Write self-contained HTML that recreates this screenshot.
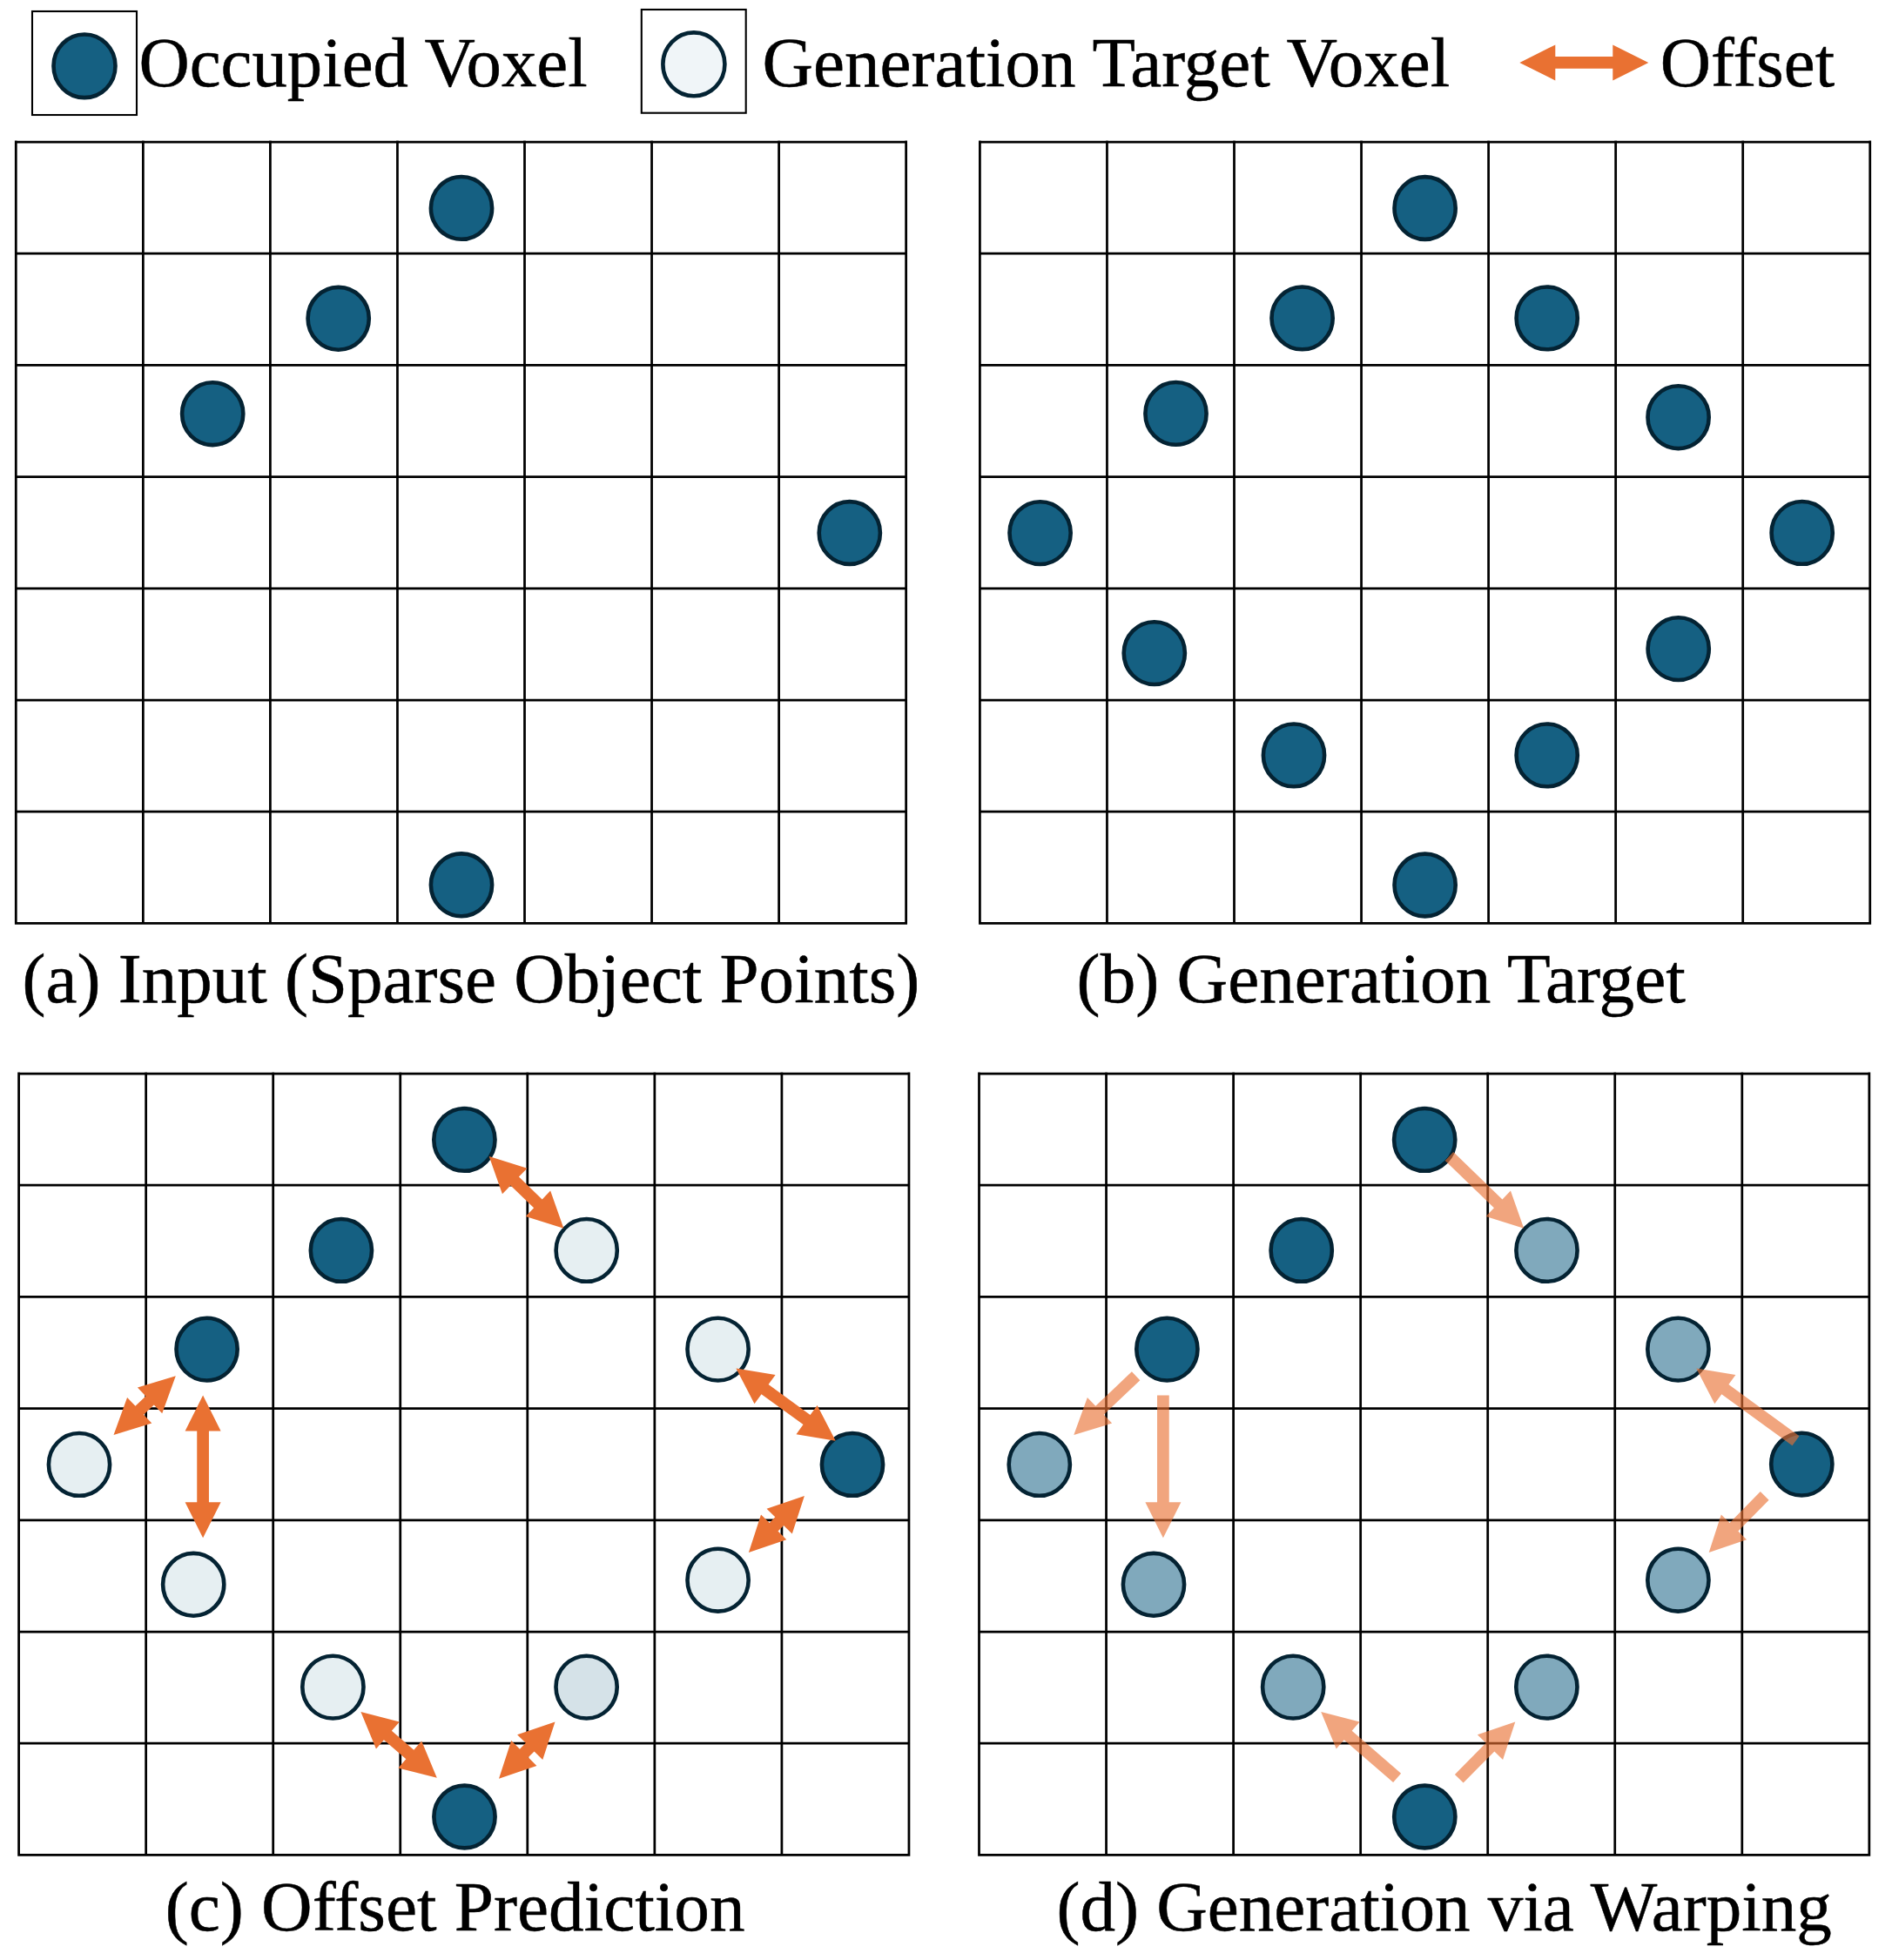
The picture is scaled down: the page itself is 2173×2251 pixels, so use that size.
<!DOCTYPE html><html><head><meta charset='utf-8'><style>html,body{margin:0;padding:0;background:#fff;overflow:hidden}svg{display:block}</style></head><body><svg width='2173' height='2251' viewBox='0 0 2173 2251' font-family='"Liberation Serif", serif' font-size='81.2' fill='#000'><rect x='37' y='13' width='120' height='119' fill='none' stroke='#000' stroke-width='2.1'/><ellipse cx='97.00' cy='75.85' rx='35.5' ry='36.3' fill='#156082' stroke='#042333' stroke-width='4.6'/><rect x='736.8' y='11' width='119.9' height='118.7' fill='none' stroke='#000' stroke-width='2.1'/><ellipse cx='796.90' cy='73.80' rx='35.5' ry='36.4' fill='#F0F5F8' stroke='#042333' stroke-width='4.6'/><polygon points='1745.30,71.90 1786.30,51.40 1786.30,65.05 1852.30,65.05 1852.30,51.40 1893.30,71.90 1852.30,92.40 1852.30,78.75 1786.30,78.75 1786.30,92.40' fill='#E97132'/><text x='159.40' y='98.50' textLength='515.2' lengthAdjust='spacingAndGlyphs' stroke='#000' stroke-width='0.5'>Occupied Voxel</text><text x='875.50' y='98.50' textLength='789.7' lengthAdjust='spacingAndGlyphs' stroke='#000' stroke-width='0.5'>Generation Target Voxel</text><text x='1906.70' y='98.50' textLength='200.4' lengthAdjust='spacingAndGlyphs' stroke='#000' stroke-width='0.5'>Offset</text><path d='M18.30 161.62V1061.77 M164.35 161.62V1061.77 M310.40 161.62V1061.77 M456.45 161.62V1061.77 M602.50 161.62V1061.77 M748.55 161.62V1061.77 M894.60 161.62V1061.77 M1040.65 161.62V1061.77 M16.93 163.00H1042.03 M16.93 291.20H1042.03 M16.93 419.40H1042.03 M16.93 547.60H1042.03 M16.93 675.80H1042.03 M16.93 804.00H1042.03 M16.93 932.20H1042.03 M16.93 1060.40H1042.03' stroke='#000' stroke-width='2.75' fill='none'/><path d='M1125.40 161.62V1061.77 M1271.45 161.62V1061.77 M1417.50 161.62V1061.77 M1563.55 161.62V1061.77 M1709.60 161.62V1061.77 M1855.65 161.62V1061.77 M2001.70 161.62V1061.77 M2147.75 161.62V1061.77 M1124.03 163.00H2149.12 M1124.03 291.20H2149.12 M1124.03 419.40H2149.12 M1124.03 547.60H2149.12 M1124.03 675.80H2149.12 M1124.03 804.00H2149.12 M1124.03 932.20H2149.12 M1124.03 1060.40H2149.12' stroke='#000' stroke-width='2.75' fill='none'/><path d='M21.60 1231.62V2131.77 M167.65 1231.62V2131.77 M313.70 1231.62V2131.77 M459.75 1231.62V2131.77 M605.80 1231.62V2131.77 M751.85 1231.62V2131.77 M897.90 1231.62V2131.77 M1043.95 1231.62V2131.77 M20.23 1233.00H1045.33 M20.23 1361.20H1045.33 M20.23 1489.40H1045.33 M20.23 1617.60H1045.33 M20.23 1745.80H1045.33 M20.23 1874.00H1045.33 M20.23 2002.20H1045.33 M20.23 2130.40H1045.33' stroke='#000' stroke-width='2.75' fill='none'/><path d='M1124.50 1231.62V2131.77 M1270.55 1231.62V2131.77 M1416.60 1231.62V2131.77 M1562.65 1231.62V2131.77 M1708.70 1231.62V2131.77 M1854.75 1231.62V2131.77 M2000.80 1231.62V2131.77 M2146.85 1231.62V2131.77 M1123.12 1233.00H2148.23 M1123.12 1361.20H2148.23 M1123.12 1489.40H2148.23 M1123.12 1617.60H2148.23 M1123.12 1745.80H2148.23 M1123.12 1874.00H2148.23 M1123.12 2002.20H2148.23 M1123.12 2130.40H2148.23' stroke='#000' stroke-width='2.75' fill='none'/><ellipse cx='530.00' cy='238.90' rx='35.1' ry='35.9' fill='#156082' stroke='#042333' stroke-width='4.6'/><ellipse cx='388.70' cy='365.80' rx='35.1' ry='35.9' fill='#156082' stroke='#042333' stroke-width='4.6'/><ellipse cx='244.20' cy='475.20' rx='35.1' ry='35.9' fill='#156082' stroke='#042333' stroke-width='4.6'/><ellipse cx='975.80' cy='612.00' rx='35.1' ry='35.9' fill='#156082' stroke='#042333' stroke-width='4.6'/><ellipse cx='530.00' cy='1016.30' rx='35.1' ry='35.9' fill='#156082' stroke='#042333' stroke-width='4.6'/><ellipse cx='1636.60' cy='239.00' rx='35.1' ry='35.9' fill='#156082' stroke='#042333' stroke-width='4.6'/><ellipse cx='1495.60' cy='365.40' rx='35.1' ry='35.9' fill='#156082' stroke='#042333' stroke-width='4.6'/><ellipse cx='1776.70' cy='365.40' rx='35.1' ry='35.9' fill='#156082' stroke='#042333' stroke-width='4.6'/><ellipse cx='1350.50' cy='474.90' rx='35.1' ry='35.9' fill='#156082' stroke='#042333' stroke-width='4.6'/><ellipse cx='1927.60' cy='479.20' rx='35.1' ry='35.9' fill='#156082' stroke='#042333' stroke-width='4.6'/><ellipse cx='1194.60' cy='612.10' rx='35.1' ry='35.9' fill='#156082' stroke='#042333' stroke-width='4.6'/><ellipse cx='2069.70' cy='611.90' rx='35.1' ry='35.9' fill='#156082' stroke='#042333' stroke-width='4.6'/><ellipse cx='1325.80' cy='750.10' rx='35.1' ry='35.9' fill='#156082' stroke='#042333' stroke-width='4.6'/><ellipse cx='1927.70' cy='745.10' rx='35.1' ry='35.9' fill='#156082' stroke='#042333' stroke-width='4.6'/><ellipse cx='1486.00' cy='867.40' rx='35.1' ry='35.9' fill='#156082' stroke='#042333' stroke-width='4.6'/><ellipse cx='1776.70' cy='867.40' rx='35.1' ry='35.9' fill='#156082' stroke='#042333' stroke-width='4.6'/><ellipse cx='1636.60' cy='1016.50' rx='35.1' ry='35.9' fill='#156082' stroke='#042333' stroke-width='4.6'/><ellipse cx='533.40' cy='1308.90' rx='35.1' ry='35.9' fill='#156082' stroke='#042333' stroke-width='4.6'/><ellipse cx='391.90' cy='1435.90' rx='35.1' ry='35.9' fill='#156082' stroke='#042333' stroke-width='4.6'/><ellipse cx='237.60' cy='1549.60' rx='35.1' ry='35.9' fill='#156082' stroke='#042333' stroke-width='4.6'/><ellipse cx='979.00' cy='1681.90' rx='35.1' ry='35.9' fill='#156082' stroke='#042333' stroke-width='4.6'/><ellipse cx='533.50' cy='2086.50' rx='35.1' ry='35.9' fill='#156082' stroke='#042333' stroke-width='4.6'/><ellipse cx='673.70' cy='1435.90' rx='35.1' ry='35.9' fill='#E6EFF2' stroke='#042333' stroke-width='4.6'/><ellipse cx='824.60' cy='1549.60' rx='35.1' ry='35.9' fill='#E6EFF2' stroke='#042333' stroke-width='4.6'/><ellipse cx='91.00' cy='1681.90' rx='35.1' ry='35.9' fill='#E6EFF2' stroke='#042333' stroke-width='4.6'/><ellipse cx='222.20' cy='1819.80' rx='35.1' ry='35.9' fill='#E6EFF2' stroke='#042333' stroke-width='4.6'/><ellipse cx='824.60' cy='1814.70' rx='35.1' ry='35.9' fill='#E6EFF2' stroke='#042333' stroke-width='4.6'/><ellipse cx='382.40' cy='1937.60' rx='35.1' ry='35.9' fill='#E6EFF2' stroke='#042333' stroke-width='4.6'/><ellipse cx='673.60' cy='1937.60' rx='35.1' ry='35.9' fill='#D5E2E8' stroke='#042333' stroke-width='4.6'/><polygon points='561.70,1328.00 605.43,1341.75 595.95,1351.56 622.67,1377.39 632.16,1367.57 647.40,1410.80 603.67,1397.05 613.15,1387.24 586.43,1361.41 576.94,1371.23' fill='#E97132'/><polygon points='201.80,1580.20 186.22,1623.31 176.81,1613.42 164.93,1624.71 174.34,1634.60 130.50,1648.00 146.08,1604.89 155.49,1614.78 167.37,1603.49 157.96,1593.60' fill='#E97132'/><polygon points='233.10,1602.40 253.60,1643.40 239.95,1643.40 239.95,1725.20 253.60,1725.20 233.10,1766.20 212.60,1725.20 226.25,1725.20 226.25,1643.40 212.60,1643.40' fill='#E97132'/><polygon points='959.70,1654.70 914.49,1647.15 922.52,1636.11 874.52,1601.17 866.48,1612.20 845.40,1571.50 890.61,1579.05 882.58,1590.09 930.58,1625.03 938.62,1614.00' fill='#E97132'/><polygon points='923.90,1717.90 909.78,1761.51 900.04,1751.94 893.53,1758.56 903.26,1768.13 859.90,1783.00 874.02,1739.39 883.76,1748.96 890.27,1742.34 880.54,1732.77' fill='#E97132'/><polygon points='501.80,2041.85 457.39,2030.49 466.33,2020.17 440.90,1998.13 431.96,2008.44 414.40,1966.10 458.81,1977.46 449.87,1987.78 475.30,2009.82 484.24,1999.51' fill='#E97132'/><polygon points='573.00,2042.70 587.23,1999.12 596.94,2008.72 603.81,2001.76 594.10,1992.16 637.50,1977.40 623.27,2020.98 613.56,2011.38 606.69,2018.34 616.40,2027.94' fill='#E97132'/><ellipse cx='1636.20' cy='1308.90' rx='35.1' ry='35.9' fill='#156082' stroke='#042333' stroke-width='4.6'/><ellipse cx='1494.70' cy='1435.90' rx='35.1' ry='35.9' fill='#156082' stroke='#042333' stroke-width='4.6'/><ellipse cx='1340.40' cy='1549.60' rx='35.1' ry='35.9' fill='#156082' stroke='#042333' stroke-width='4.6'/><ellipse cx='2069.30' cy='1681.60' rx='35.1' ry='35.9' fill='#156082' stroke='#042333' stroke-width='4.6'/><ellipse cx='1636.30' cy='2086.50' rx='35.1' ry='35.9' fill='#156082' stroke='#042333' stroke-width='4.6'/><ellipse cx='1776.50' cy='1435.90' rx='35.1' ry='35.9' fill='#80A9BC' stroke='#042333' stroke-width='4.6'/><ellipse cx='1927.40' cy='1549.60' rx='35.1' ry='35.9' fill='#80A9BC' stroke='#042333' stroke-width='4.6'/><ellipse cx='1193.80' cy='1681.90' rx='35.1' ry='35.9' fill='#80A9BC' stroke='#042333' stroke-width='4.6'/><ellipse cx='1325.00' cy='1819.80' rx='35.1' ry='35.9' fill='#80A9BC' stroke='#042333' stroke-width='4.6'/><ellipse cx='1927.40' cy='1814.70' rx='35.1' ry='35.9' fill='#80A9BC' stroke='#042333' stroke-width='4.6'/><ellipse cx='1485.20' cy='1937.60' rx='35.1' ry='35.9' fill='#80A9BC' stroke='#042333' stroke-width='4.6'/><ellipse cx='1776.40' cy='1937.60' rx='35.1' ry='35.9' fill='#80A9BC' stroke='#042333' stroke-width='4.6'/><polygon points='1750.20,1410.80 1706.47,1397.05 1715.95,1387.24 1659.74,1332.93 1669.26,1323.07 1725.47,1377.39 1734.96,1367.57' fill='#E97132' fill-opacity='0.63'/><polygon points='1233.30,1648.00 1248.88,1604.89 1258.29,1614.78 1299.88,1575.24 1309.32,1585.16 1267.73,1624.71 1277.14,1634.60' fill='#E97132' fill-opacity='0.63'/><polygon points='1335.90,1766.20 1315.40,1725.20 1329.05,1725.20 1329.05,1602.40 1342.75,1602.40 1342.75,1725.20 1356.40,1725.20' fill='#E97132' fill-opacity='0.63'/><polygon points='1948.20,1571.50 1993.41,1579.05 1985.38,1590.09 2066.53,1649.16 2058.47,1660.24 1977.32,1601.17 1969.28,1612.20' fill='#E97132' fill-opacity='0.63'/><polygon points='1962.70,1783.00 1976.82,1739.39 1986.56,1748.96 2021.82,1713.10 2031.58,1722.70 1996.33,1758.56 2006.06,1768.13' fill='#E97132' fill-opacity='0.63'/><polygon points='1517.20,1966.10 1561.61,1977.46 1552.67,1987.78 1609.09,2036.67 1600.11,2047.03 1543.70,1998.13 1534.76,2008.44' fill='#E97132' fill-opacity='0.63'/><polygon points='1740.30,1977.40 1726.07,2020.98 1716.36,2011.38 1680.67,2047.51 1670.93,2037.89 1706.61,2001.76 1696.90,1992.16' fill='#E97132' fill-opacity='0.63'/><text x='25.60' y='1151.00' textLength='1030.6' lengthAdjust='spacingAndGlyphs' stroke='#000' stroke-width='0.5'>(a) Input (Sparse Object Points)</text><text x='1236.60' y='1151.00' stroke='#000' stroke-width='0.5'>(b) Generation Target</text><text x='189.70' y='2216.50' stroke='#000' stroke-width='0.5'>(c) Offset Prediction</text><text x='1213.40' y='2216.50' textLength='890.5' lengthAdjust='spacingAndGlyphs' stroke='#000' stroke-width='0.5'>(d) Generation via Warping</text></svg></body></html>
